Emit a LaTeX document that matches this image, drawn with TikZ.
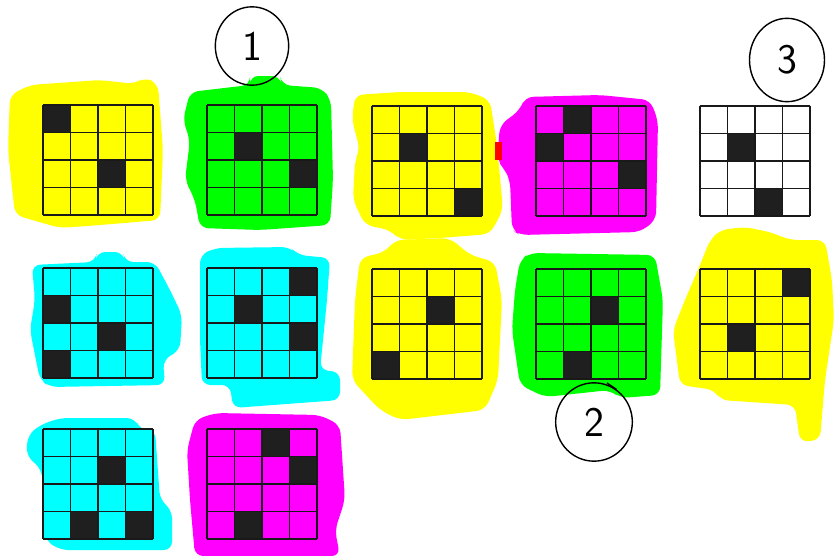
\documentclass[tikz,border=0pt]{standalone}
\usepackage{tikz}
\usetikzlibrary{shapes.geometric}
\definecolor{hlyellow}{RGB}{255,255,0}
\definecolor{hlgreen}{RGB}{0,255,0}
\definecolor{hlcyan}{RGB}{0,255,255}
\definecolor{hlmagenta}{RGB}{255,0,255}
\definecolor{hlred}{RGB}{255,0,0}

\begin{document}
\begin{tikzpicture}[
    x=0.03cm, y=-0.03cm,
    blob/.style={rounded corners=7},
    gridline/.style={draw=black!90, line width=1.6pt},
    markcell/.style={fill=black!88},
    numcirc/.style={draw, ellipse, line width=1.2pt, inner sep=0pt, font=\fontsize{36}{36}\sffamily},
]
\useasboundingbox (0,0) rectangle (834,556);

% Coloured blobs, top row
\fill[hlyellow, blob] (10,95) -- (30,85) -- (100,80) -- (135,84) -- (145,77) -- (158,84) -- (163,150) -- (160,220) -- (100,225) -- (60,228) -- (15,215) -- (8,150) -- cycle;
\fill[hlgreen, blob] (190,92) -- (250,85) -- (250,76) -- (280,76) -- (282,85) -- (322,88) -- (331,100) -- (333,180) -- (330,225) -- (260,230) -- (200,228) -- (195,200) -- (185,180) -- (190,140) -- (183,120) -- cycle;
\fill[hlyellow, blob] (355,95) -- (400,92) -- (470,92) -- (490,100) -- (497,145) -- (503,210) -- (490,234) -- (440,238) -- (400,240) -- (390,230) -- (365,225) -- (353,200) -- (355,160) -- (360,150) -- (352,120) -- cycle;
\fill[hlmagenta, blob] (500,125) -- (520,110) -- (525,97) -- (600,95) -- (650,100) -- (658,120) -- (656,220) -- (640,232) -- (520,235) -- (512,230) -- (510,180) -- (505,170) -- (497,160) -- cycle;
\fill[hlred] (495,142) rectangle (502,160);

% Coloured blobs, middle row
\fill[hlcyan, blob] (32,265) -- (95,262) -- (97,252) -- (123,252) -- (125,262) -- (155,262) -- (170,290) -- (182,315) -- (180,350) -- (163,360) -- (165,385) -- (50,387) -- (40,380) -- (30,330) -- (35,300) -- cycle;
\fill[hlcyan, blob] (200,255) -- (215,248) -- (290,247) -- (298,255) -- (330,258) -- (327,300) -- (320,370) -- (340,372) -- (340,400) -- (233,408) -- (230,385) -- (202,385) -- (200,340) -- cycle;
\fill[hlyellow, blob] (360,258) -- (385,252) -- (395,240) -- (450,238) -- (470,255) -- (495,262) -- (502,300) -- (498,380) -- (485,410) -- (400,420) -- (380,410) -- (352,380) -- (355,300) -- cycle;
\fill[hlgreen, blob] (520,260) -- (530,253) -- (655,255) -- (663,300) -- (660,395) -- (620,398) -- (610,390) -- (545,397) -- (520,385) -- (512,330) -- (515,290) -- cycle;
\fill[hlyellow, blob] (710,240) -- (720,230) -- (745,227) -- (770,232) -- (790,240) -- (825,240) -- (832,280) -- (834,320) -- (825,380) -- (820,440) -- (800,442) -- (795,405) -- (720,400) -- (715,390) -- (680,385) -- (673,330) -- (685,300) -- (700,265) -- cycle;

% Coloured blobs, bottom row
\fill[hlcyan, blob] (40,425) -- (60,418) -- (135,418) -- (140,430) -- (155,430) -- (160,500) -- (172,510) -- (172,550) -- (60,550) -- (45,540) -- (42,470) -- (26,455) -- (28,435) -- cycle;
\fill[hlmagenta, blob] (195,420) -- (215,413) -- (320,415) -- (340,425) -- (345,500) -- (335,530) -- (340,556) -- (195,556) -- (190,500) -- (187,450) -- cycle;

% Boards: x/y/colour/{row/col of dark cells}
\foreach \gx/\gy/\col/\marks in {
    43/105/hlyellow/{0/0,2/2}, 207/105/hlgreen/{1/1,2/3}, 372/106/hlyellow/{1/1,3/3},
    536/106/hlmagenta/{0/1,1/0,2/3}, 700/106/white/{1/1,3/2},
    43/268/hlcyan/{1/0,2/2,3/0}, 207/268/hlcyan/{0/3,1/1,2/3}, 372/269/hlyellow/{1/2,3/0},
    536/269/hlgreen/{1/2,3/1}, 700/269/hlyellow/{0/3,2/1},
    43/429/hlcyan/{1/2,3/1,3/3}, 207/429/hlmagenta/{0/2,1/3,3/1}} {
  \fill[\col] (\gx,\gy) rectangle ++(110,110);
  \foreach \r/\c in \marks
    \fill[markcell] (\gx+\c*27.5,\gy+\r*27.5) rectangle ++(27.5,27.5);
  \foreach \i in {0,...,4} {
    \draw[gridline] (\gx+\i*27.5,\gy) -- ++(0,110);
    \draw[gridline] (\gx,\gy+\i*27.5) -- ++(110,0);
  }
}

% Circled numbers
\node[numcirc, minimum width=2.2cm, minimum height=2.35cm] (num1) at (252,46) {1};
\node[numcirc, minimum width=2.25cm, minimum height=2.5cm] (num3) at (787,60) {3};
\node[numcirc, minimum width=2.3cm, minimum height=2.35cm] (num2) at (594,422) {2};
\coordinate (tail2) at (607,383);
\draw[line width=1.2pt] (tail2) -- (num2.55);

\end{tikzpicture}
\end{document}
